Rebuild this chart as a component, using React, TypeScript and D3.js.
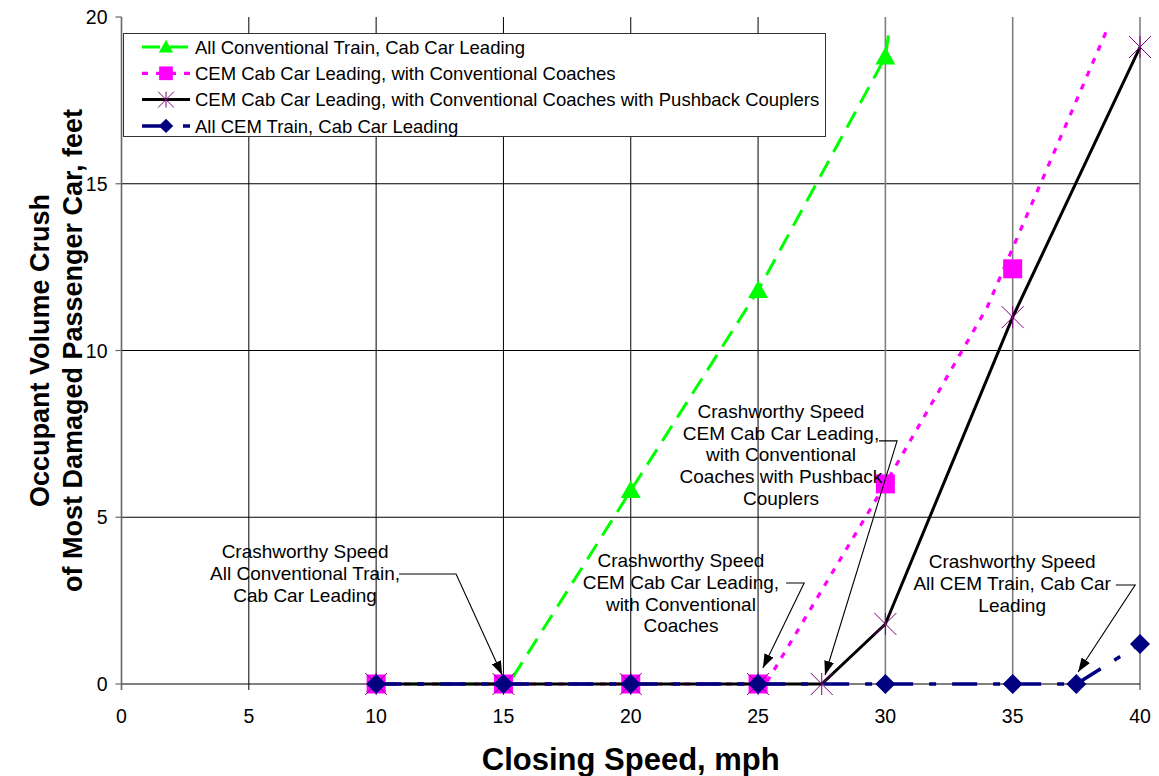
import React from 'react';
import * as d3 from 'd3';

// ---------- data ----------
const xTicks = [0, 5, 10, 15, 20, 25, 30, 35, 40];
const yTicks = [0, 5, 10, 15, 20];

// All Conventional Train, Cab Car Leading
const convSpeed = [10, 15, 20, 25, 30];
const convCrush = [0, 0, 5.8, 11.8, 18.8];
const convLineSpeed = [10, 15.2, 20, 25, 30, 30.15];
const convLineCrush = [0, 0, 5.8, 11.8, 18.8, 19.6];

// CEM Cab Car Leading, with Conventional Coaches
const cemConvSpeed = [10, 15, 20, 25, 30, 35];
const cemConvCrush = [0, 0, 0, 0, 6.0, 12.45];
const cemConvLineSpeed = [10, 25.3, 30, 34, 38.75];
const cemConvLineCrush = [0, 0, 6.0, 11.3, 19.7];

// CEM Cab Car Leading, with Conventional Coaches with Pushback Couplers
const pushSpeed = [10, 15, 20, 25, 27.5, 30, 35, 40];
const pushCrush = [0, 0, 0, 0, 0, 1.8, 11.0, 19.1];

// All CEM Train, Cab Car Leading
const allCemSpeed = [10, 15, 20, 25, 30, 35, 37.5, 40];
const allCemCrush = [0, 0, 0, 0, 0, 0, 0, 1.2];

const seriesLabels = [
  'All Conventional Train, Cab Car Leading',
  'CEM Cab Car Leading, with Conventional Coaches',
  'CEM Cab Car Leading, with Conventional Coaches with Pushback Couplers',
  'All CEM Train, Cab Car Leading',
];

const annotationLines = [
  ['Crashworthy Speed', 'All Conventional Train,', 'Cab Car Leading'],
  ['Crashworthy Speed', 'CEM Cab Car Leading,', 'with Conventional', 'Coaches'],
  ['Crashworthy Speed', 'CEM Cab Car Leading,', 'with Conventional', 'Coaches with Pushback', 'Couplers'],
  ['Crashworthy Speed', 'All CEM Train, Cab Car', 'Leading'],
];
// anchor points in data units (mph, ft): text centre / first baseline, leader start, elbow, arrow tip
const annotationText = [[7.21, 3.78], [21.97, 3.51], [25.9, 7.98], [34.98, 3.48]];
const annotationLeader = [
  [[10.9, 3.3], [13.14, 3.3], [14.95, 0.27]],
  [[26.1, 3.03], [26.81, 3.03], [25.19, 0.48]],
  [[29.75, 7.29], [30.46, 7.29], [27.63, 0.27]],
  [[39.05, 2.97], [39.81, 2.97], [37.57, 0.36]],
];

// ---------- chart ----------
const W = 1159;
const H = 776;
const FONT = '"Liberation Sans", Arial, Helvetica, sans-serif';

const x = d3.scaleLinear().domain([0, 40]).range([121.5, 1140]);
const y = d3.scaleLinear().domain([0, 20]).range([684, 17]);

type Shape = 'triangle' | 'square' | 'star' | 'diamond';

const zip = (xs: number[], ys: number[]) => xs.map((v, i) => [v, ys[i]] as [number, number]);

const series = [
  {
    label: seriesLabels[0], color: '#00FF00', width: 3, dash: '18 10', shape: 'triangle' as Shape,
    markerColor: '#00FF00', line: zip(convLineSpeed, convLineCrush), pts: zip(convSpeed, convCrush),
  },
  {
    label: seriesLabels[1], color: '#FF00FF', width: 3.2, dash: '6 8', shape: 'square' as Shape,
    markerColor: '#FF00FF', line: zip(cemConvLineSpeed, cemConvLineCrush), pts: zip(cemConvSpeed, cemConvCrush),
  },
  {
    label: seriesLabels[2], color: '#000000', width: 3, dash: null, shape: 'star' as Shape,
    markerColor: '#800080', line: zip(pushSpeed, pushCrush), pts: zip(pushSpeed, pushCrush),
  },
  {
    label: seriesLabels[3], color: '#000080', width: 3.5, dash: '25 16 7 16', shape: 'diamond' as Shape,
    markerColor: '#000080', line: zip(allCemSpeed, allCemCrush), pts: zip(allCemSpeed, allCemCrush),
  },
];

function Marker({ shape, color, cx, cy, s = 1 }: { shape: Shape; color: string; cx: number; cy: number; s?: number }) {
  const t = `translate(${cx},${cy}) scale(${s})`;
  if (shape === 'triangle') return <path transform={t} d="M0,-10 L10,7.5 L-10,7.5 Z" fill={color} />;
  if (shape === 'square') return <rect transform={t} x={-9.5} y={-9.5} width={19} height={19} fill={color} />;
  if (shape === 'diamond') return <path transform={t} d="M0,-10 L10,0 L0,10 L-10,0 Z" fill={color} />;
  return (
    <path transform={t} d="M-11,-11 L11,11 M-11,11 L11,-11 M0,-11 L0,11" stroke={color} strokeWidth={1 / s} fill="none" />
  );
}

export default function App() {
  const line = d3.line<[number, number]>().x((d) => x(d[0])).y((d) => y(d[1]));
  const x0 = x(0);
  const x40 = x(40);
  const yTop = y(20);
  const yBot = y(0);

  return (
    <svg width={W} height={H} style={{ position: 'absolute', left: 0, top: 0, background: '#fff' }} fontFamily={FONT}>
      <rect x={0} y={0} width={W} height={H} fill="#fff" />

      {/* grid */}
      {yTicks.filter((t) => t > 0 && t < 20).map((t) => (
        <line key={'hy' + t} x1={x0} x2={x40} y1={y(t)} y2={y(t)} stroke="#000" strokeWidth={1} />
      ))}
      {xTicks.filter((t) => t > 0).map((t) => (
        <line key={'vx' + t} x1={x(t)} x2={x(t)} y1={yTop} y2={yBot + 6}
          stroke={t >= 30 ? '#7f7f7f' : '#000'} strokeWidth={t >= 30 ? 1.6 : 1} />
      ))}

      {/* axes */}
      <line x1={x0} x2={x40} y1={yBot} y2={yBot} stroke="#000" strokeWidth={1} />
      <line x1={x0} x2={x0} y1={yTop} y2={yBot + 6} stroke="#666" strokeWidth={1.6} />
      {yTicks.map((t) => (
        <g key={'yt' + t}>
          <line x1={x0 - 6} x2={x0} y1={y(t)} y2={y(t)} stroke="#666" strokeWidth={1.2} />
          <text x={x0 - 14} y={y(t)} dy="0.36em" textAnchor="end" fontSize={19.5} fill="#000">{t}</text>
        </g>
      ))}
      {xTicks.map((t) => (
        <text key={'xt' + t} x={x(t)} y={723} textAnchor="middle" fontSize={19.5} fill="#000">{t}</text>
      ))}

      {/* titles */}
      <text x={(x0 + x40) / 2} y={770} textAnchor="middle" fontSize={31} fontWeight="bold">Closing Speed, mph</text>
      <g transform={`translate(49, ${(yTop + yBot) / 2}) rotate(-90)`}>
        <text x={0} y={0} textAnchor="middle" fontSize={27} fontWeight="bold">Occupant Volume Crush</text>
        <text x={0} y={33} textAnchor="middle" fontSize={27} fontWeight="bold">of Most Damaged Passenger Car, feet</text>
      </g>

      {/* series */}
      {series.map((s, i) => (
        <g key={'s' + i}>
          <path d={line(s.line) || ''} fill="none" stroke={s.color} strokeWidth={s.width}
            strokeDasharray={s.dash || undefined} />
          {s.pts.map((p, j) => (
            <Marker key={j} shape={s.shape} color={s.markerColor} cx={x(p[0])} cy={y(p[1])} />
          ))}
        </g>
      ))}

      {/* annotations */}
      <defs>
        <marker id="arrow" viewBox="0 0 14 10" refX={14} refY={5} markerWidth={14} markerHeight={10}
          markerUnits="userSpaceOnUse" orient="auto">
          <path d="M0,0 L14,5 L0,10 Z" fill="#000" />
        </marker>
      </defs>
      {annotationLines.map((lines, i) => {
        const [tx, ty] = annotationText[i];
        const pts = annotationLeader[i].map((p) => [x(p[0]), y(p[1])] as [number, number]);
        return (
          <g key={'a' + i}>
            {lines.map((l, k) => (
              <text key={k} x={x(tx)} y={y(ty) + k * 21.8} textAnchor="middle" fontSize={19} fill="#000">{l}</text>
            ))}
            <path d={d3.line()(pts) || ''} fill="none" stroke="#000" strokeWidth={1.1} markerEnd="url(#arrow)" />
          </g>
        );
      })}

      {/* legend */}
      <g>
        <rect x={123.5} y={33.5} width={702} height={103} fill="#fff" stroke="#333" strokeWidth={1} />
        {series.map((s, i) => {
          const cy = 47 + i * 26.3;
          return (
            <g key={'l' + i}>
              <line x1={142} x2={190} y1={cy} y2={cy} stroke={s.color} strokeWidth={s.width}
                strokeDasharray={s.dash || undefined} />
              <Marker shape={s.shape} color={s.markerColor} cx={166} cy={cy} s={0.72} />
              <text x={195} y={cy} dy="0.36em" fontSize={18.5} fill="#000">{s.label}</text>
            </g>
          );
        })}
      </g>
    </svg>
  );
}
